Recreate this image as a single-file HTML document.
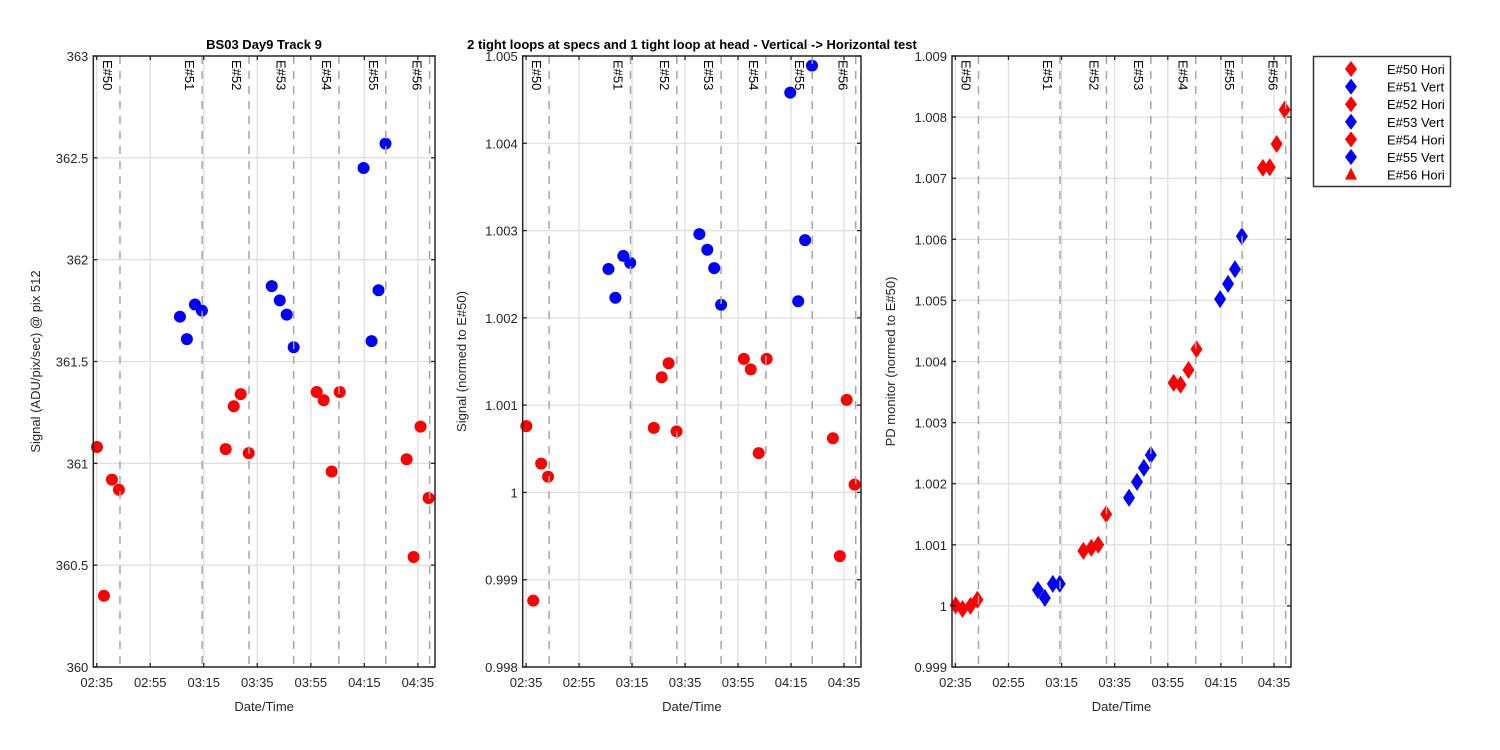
<!DOCTYPE html>
<html><head><meta charset="utf-8"><style>
body{margin:0;background:#fff;}
svg{display:block;font-family:"Liberation Sans",sans-serif;}
</style></head><body>
<svg id="fig" width="1500" height="750" viewBox="0 0 1500 750" xmlns="http://www.w3.org/2000/svg">
<rect width="1500" height="750" fill="#fff"/>
<text x="264" y="49" font-size="13" font-weight="bold" text-anchor="middle">BS03 Day9 Track 9</text>
<text x="692" y="49" font-size="13" font-weight="bold" text-anchor="middle">2 tight loops at specs and 1 tight loop at head - Vertical -&gt; Horizontal test</text>
<g id="legend">
<rect x="1313.5" y="56.5" width="137" height="130" fill="#fff" stroke="#333" stroke-width="1.5"/>
</g>
</svg>
<script>
// time in minutes after 02:35
const times = [0.1,2.7,5.7,8.3, 31.1,33.7,36.7,39.3, 48.2,51.2,53.8,56.8, 65.4,68.4,71,73.6, 82.2,84.8,87.8,90.8, 99.7,102.7,105.3,107.9, 115.8,118.4,121,124];
const groups = ["E#50","E#51","E#52","E#53","E#54","E#55","E#56"];
const groupModes = ["Hori","Vert","Hori","Vert","Hori","Vert","Hori"];
const eventTimes = [8.7,39.4,56.9,73.6,90.5,108,124.4];
const signalValues = [361.08,360.35,360.92,360.87, 361.72,361.61,361.78,361.75, 361.07,361.28,361.34,361.05, 361.87,361.80,361.73,361.57, 361.35,361.31,360.96,361.35, 362.45,361.60,361.85,362.57, 361.02,360.54,361.18,360.83];
const normedValues = [1.00076,0.99876,1.00033,1.00018, 1.00256,1.00223,1.00271,1.00263, 1.00074,1.00132,1.00148,1.00070, 1.00296,1.00278,1.00257,1.00215, 1.00153,1.00141,1.00045,1.00153, 1.00458,1.00219,1.00289,1.00489, 1.00062,0.99927,1.00106,1.00009];
const pdValues = [1.00001,0.99995,1.0000,1.00010, 1.00026,1.00013,1.00036,1.00036, 1.0009,1.00095,1.0010,1.0015, 1.00177,1.00203,1.00226,1.00247, 1.00365,1.00362,1.00386,1.0042, 1.00502,1.00527,1.00551,1.00605, 1.00717,1.00718,1.00756,1.00812];
const xTickMinutes = [0,20,40,60,80,100,120];
const xTickLabels = ["02:35","02:55","03:15","03:35","03:55","04:15","04:35"];
const yTicks1 = [360,360.5,361,361.5,362,362.5,363];
const yTickLabels1 = ["360","360.5","361","361.5","362","362.5","363"];
const yTicks2 = [0.998,0.999,1,1.001,1.002,1.003,1.004,1.005];
const yTickLabels2 = ["0.998","0.999","1","1.001","1.002","1.003","1.004","1.005"];
const yTicks3 = [0.999,1,1.001,1.002,1.003,1.004,1.005,1.006,1.007,1.008,1.009];
const yTickLabels3 = ["0.999","1","1.001","1.002","1.003","1.004","1.005","1.006","1.007","1.008","1.009"];

const NS="http://www.w3.org/2000/svg";
const svg=document.getElementById('fig');
function mk(tag,attrs,parent){const e=document.createElementNS(NS,tag);for(const k in attrs)e.setAttribute(k,attrs[k]);(parent||svg).appendChild(e);return e;}
const X0=-1.27,X1=126.4,TOP=56,BOT=667;

function panel(cfg){
  const g=mk('g',{});
  
  
  const L=cfg.left,R=cfg.right;
  const xs=t=>L+(t-X0)/(X1-X0)*(R-L);
  const ys=v=>BOT-(v-cfg.ymin)/(cfg.ymax-cfg.ymin)*(BOT-TOP);
  // grid
  xTickMinutes.forEach(t=>{const l=mk('line',{x1:xs(t),x2:xs(t),y1:TOP,y2:BOT,stroke:'#e0e0e0','stroke-width':1.3},g);
    });
  cfg.yticks.forEach(v=>{const l=mk('line',{x1:L,x2:R,y1:ys(v),y2:ys(v),stroke:'#e0e0e0','stroke-width':1.3},g);
    });
  // markers
  times.forEach((t,i)=>{
    const gi=Math.floor(i/4);const col=gi%2===0?'#ff0000':'#0000ff';
    const cx=xs(t),cy=ys(cfg.values[i]);let m;
    if(cfg.marker==='circle'){m=mk('circle',{cx:cx,cy:cy,r:6,fill:col},g);}
    else{m=mk('polygon',{points:`${cx},${cy-9} ${cx+6},${cy} ${cx},${cy+9} ${cx-6},${cy}`,fill:col},g);}
    
    
  });
  // event lines and labels
  eventTimes.forEach((t,i)=>{
    const x=xs(t);
    const l=mk('line',{x1:x,x2:x,y1:TOP,y2:BOT,stroke:'#a6a6a6','stroke-width':1.5,'stroke-dasharray':'8,7'},g);
    
    
    const tx=mk('text',{x:0,y:0,'font-size':13,transform:`translate(${x-17},${TOP+4}) rotate(90)`},g);
    tx.textContent=groups[i];
    
    
  });
  // axes box
  const bx=mk('rect',{x:L,y:TOP,width:R-L,height:BOT-TOP,fill:'none',stroke:'#262626','stroke-width':1.5},g);
  
  xTickMinutes.forEach((t,i)=>{const x=xs(t);
    mk('line',{x1:x,x2:x,y1:BOT,y2:BOT-4,stroke:'#262626','stroke-width':1.3},g);
    mk('line',{x1:x,x2:x,y1:TOP,y2:TOP+4,stroke:'#262626','stroke-width':1.3},g);
    const tx=mk('text',{x:x,y:BOT+20,'font-size':13,'text-anchor':'middle',fill:'#262626'},g);
    tx.textContent=xTickLabels[i];
    });
  cfg.yticks.forEach((v,i)=>{const y=ys(v);
    mk('line',{x1:L,x2:L+4,y1:y,y2:y,stroke:'#262626','stroke-width':1.3},g);
    mk('line',{x1:R,x2:R-4,y1:y,y2:y,stroke:'#262626','stroke-width':1.3},g);
    const tx=mk('text',{x:L-5,y:y+5,'font-size':13,'text-anchor':'end',fill:'#262626'},g);
    tx.textContent=cfg.ylabels[i];
    });
  const xt=mk('text',{x:(L+R)/2,y:BOT+44,'font-size':13,'text-anchor':'middle',fill:'#262626'},g);
  xt.textContent='Date/Time';
  
  const yt=mk('text',{x:0,y:0,'font-size':13,'text-anchor':'middle',fill:'#262626',transform:`translate(${cfg.ytx},${(TOP+BOT)/2}) rotate(-90)`},g);
  yt.textContent=cfg.ytitle;
  
}
panel({name:'signal-panel',left:93.3,right:435,ymin:360,ymax:363,yticks:yTicks1,ylabels:yTickLabels1,values:signalValues,marker:'circle',ytitle:'Signal (ADU/pix/sec) @ pix 512',ytx:40});
panel({name:'normed-signal-panel',left:522.7,right:861,ymin:0.998,ymax:1.005,yticks:yTicks2,ylabels:yTickLabels2,values:normedValues,marker:'circle',ytitle:'Signal (normed to E#50)',ytx:466});
panel({name:'pd-monitor-panel',left:952,right:1291,ymin:0.999,ymax:1.009,yticks:yTicks3,ylabels:yTickLabels3,values:pdValues,marker:'diamond',ytitle:'PD monitor (normed to E#50)',ytx:895});

// legend entries
const lg=document.getElementById('legend');
groups.forEach((gname,i)=>{
  const y=69+i*17.6;const col=i%2===0?'#ff0000':'#0000ff';const cx=1351;
  const e=mk('g',{},lg);
  
  
  if(i===6) mk('polygon',{points:`${cx},${y-7} ${cx+6},${y+5} ${cx-6},${y+5}`,fill:col},e);
  else mk('polygon',{points:`${cx},${y-8} ${cx+6},${y} ${cx},${y+8} ${cx-6},${y}`,fill:col},e);
  const t=mk('text',{x:1387,y:y+5,'font-size':13,fill:'#000'},e);
  t.textContent=gname+' '+groupModes[i];
});
</script>
</body></html>
